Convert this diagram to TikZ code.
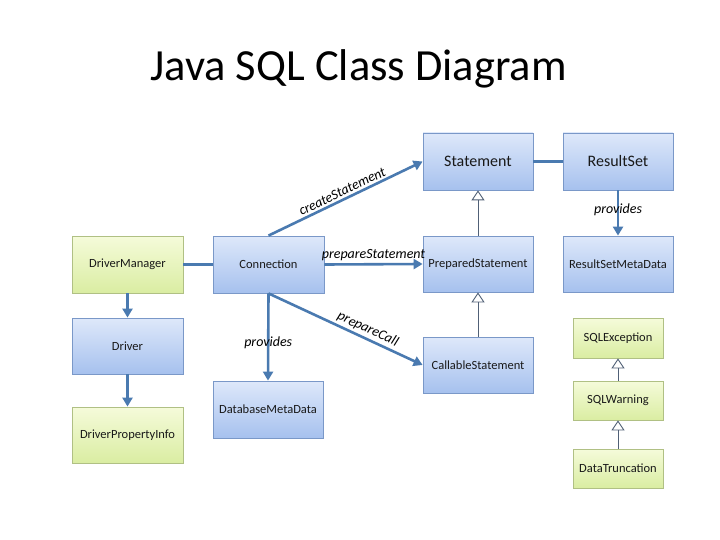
\documentclass[tikz,border=0pt]{standalone}
\usepackage{fontspec}
\setmainfont{Carlito}
\usetikzlibrary{arrows.meta}
\definecolor{linec}{RGB}{74,122,176}
\definecolor{btop}{RGB}{222,232,250}
\definecolor{bbot}{RGB}{166,193,238}
\definecolor{bdraw}{RGB}{122,152,200}
\definecolor{gtop}{RGB}{245,251,218}
\definecolor{gbot}{RGB}{218,237,162}
\definecolor{gdraw}{RGB}{176,192,132}
\definecolor{inhc}{RGB}{80,96,118}
\tikzset{
  cls/.style={rectangle, inner sep=0pt, line width=0.8pt, text=black!90,
    font=\fontsize{12.5}{14}\selectfont},
  bluebox/.style={cls, draw=bdraw, top color=btop, bottom color=bbot},
  greenbox/.style={cls, draw=gdraw, top color=gtop, bottom color=gbot},
  bigtext/.style={font=\fontsize{16}{18}\selectfont},
  assoc/.style={draw=linec, line width=2.6pt, -{Triangle[length=9pt,width=10pt]}},
  plainlink/.style={draw=linec, line width=2.6pt},
  inherit/.style={draw=inhc, line width=0.9pt, -{Triangle[open,length=10pt,width=13pt,fill=white]}},
  lbl/.style={font=\itshape\fontsize{14}{16}\selectfont, inner sep=2pt, text=black}
}
\begin{document}
\begin{tikzpicture}[x=1pt,y=-1pt]
\useasboundingbox (0,0) rectangle (720,540);
\fill[white] (0,0) rectangle (720,540);
\node[anchor=base, font=\fontsize{44.5}{50}\selectfont] (title) at (358.5,81) {Java SQL Class Diagram};

\node[greenbox, minimum width=111, minimum height=57] (dm) at (127.5,264.5) {DriverManager};
\node[bluebox, minimum width=111, minimum height=57] (conn) at (268.5,264.5) {Connection};
\node[bluebox, bigtext, minimum width=110, minimum height=57] (stmt) at (478,161.5) {Statement};
\node[bluebox, bigtext, minimum width=110, minimum height=57] (rs) at (618,161.5) {ResultSet};
\node[bluebox, minimum width=110, minimum height=56] (ps) at (478,264) {PreparedStatement};
\node[bluebox, minimum width=110, minimum height=56] (rsmd) at (618,264) {ResultSetMetaData};
\node[bluebox, minimum width=111, minimum height=56] (drv) at (127.5,346) {Driver};
\node[greenbox, minimum width=111, minimum height=56] (dpi) at (127.5,435) {DriverPropertyInfo};
\node[bluebox, minimum width=110, minimum height=57] (dbmd) at (268,409.5) {DatabaseMetaData};
\node[bluebox, minimum width=110, minimum height=56] (cs) at (478,365) {CallableStatement};
\node[greenbox, minimum width=90, minimum height=40] (sqle) at (618,338) {SQLException};
\node[greenbox, minimum width=90, minimum height=39] (sqlw) at (618,400.5) {SQLWarning};
\node[greenbox, minimum width=90, minimum height=39] (dt) at (618,468.5) {DataTruncation};

\draw[plainlink] (dm.east) -- (conn.west);
\draw[plainlink] (stmt.east) -- (rs.west);
\draw[assoc] (dm.south) -- (drv.north);
\draw[assoc] (drv.south) -- (dpi.north);
\draw[assoc] (conn.north) -- node[lbl, sloped, above] (lcs) {createStatement} (stmt.west);
\draw[assoc] (conn.east) -- node[lbl, above] (lps) {prepareStatement} (ps.west);
\draw[assoc] (conn.south) -- node[lbl, sloped, above, pos=0.62] (lpc) {prepareCall} (cs.west);
\draw[assoc] (conn.south) -- node[lbl, pos=0.57] (lpr1) {provides} (dbmd.north);
\draw[assoc] (rs.south) -- node[lbl, pos=0.43] (lpr2) {provides} (rsmd.north);
\draw[inherit] (ps.north) -- (stmt.south);
\draw[inherit] (cs.north) -- (ps.south);
\draw[inherit] (sqlw.north) -- (sqle.south);
\draw[inherit] (dt.north) -- (sqlw.south);
\end{tikzpicture}
\end{document}
